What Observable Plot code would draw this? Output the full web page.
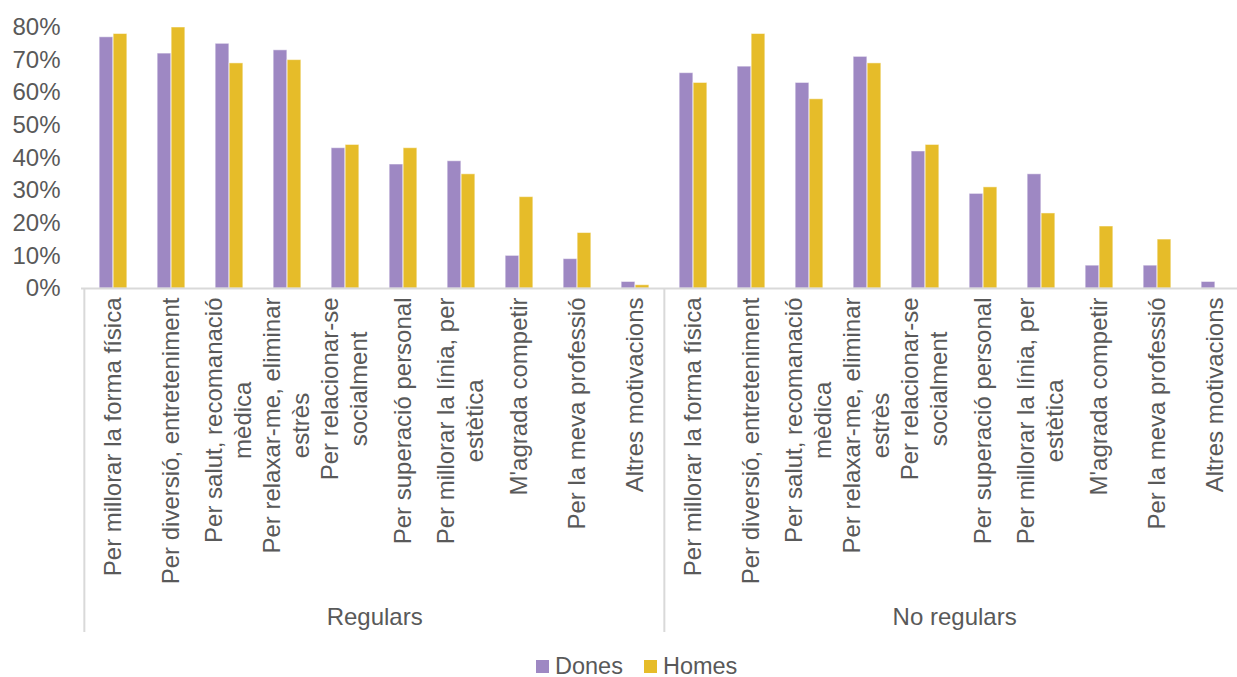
<!DOCTYPE html>
<html><head><meta charset="utf-8">
<script src="https://cdn.jsdelivr.net/npm/d3@7"></script>
<script src="https://cdn.jsdelivr.net/npm/@observablehq/plot@0.6"></script>
<style>
html,body{margin:0;padding:0;overflow:hidden;background:#fff;width:1237px;height:677px;}
#chart{position:absolute;left:0;top:0;}
#chart svg{max-width:none !important;}
#legend{position:absolute;left:536px;top:655px;height:22px;line-height:22px;display:flex;align-items:center;font-family:"Liberation Sans",Arial,sans-serif;font-size:23.5px;color:#595959;white-space:nowrap;}
#legend .sw{display:inline-block;width:13px;height:13px;margin-right:6px;}
#legend .it{display:flex;align-items:center;margin-right:21px;}
</style></head><body>
<div id="chart"></div><div id="legend"></div>
<script>
const groups = ["Regulars", "No regulars"];
const categories = [
  "Per millorar la forma física",
  "Per diversió, entreteniment",
  "Per salut, recomanació mèdica",
  "Per relaxar-me, eliminar estrès",
  "Per relacionar-se socialment",
  "Per superació personal",
  "Per millorar la línia, per estètica",
  "M'agrada competir",
  "Per la meva professió",
  "Altres motivacions"
];
const categoryLabels = [
  "Per millorar la forma física",
  "Per diversió, entreteniment",
  "Per salut, recomanació\nmèdica",
  "Per relaxar-me, eliminar\nestrès",
  "Per relacionar-se\nsocialment",
  "Per superació personal",
  "Per millorar la línia, per\nestètica",
  "M'agrada competir",
  "Per la meva professió",
  "Altres motivacions"
];
const series = ["Dones", "Homes"];
const regularsDones   = [77, 72, 75, 73, 43, 38, 39, 10, 9, 2];
const regularsHomes   = [78, 80, 69, 70, 44, 43, 35, 28, 17, 1];
const noRegularsDones = [66, 68, 63, 71, 42, 29, 35, 7, 7, 2];
const noRegularsHomes = [63, 78, 58, 69, 44, 31, 23, 19, 15, 0];
const yTicks = [0, 10, 20, 30, 40, 50, 60, 70, 80];
const colors = ["#9e88c3", "#e6bc29"];

const valuesBy = {
  "Regulars": {"Dones": regularsDones, "Homes": regularsHomes},
  "No regulars": {"Dones": noRegularsDones, "Homes": noRegularsHomes}
};
const keyOf = (g, c) => g + "|" + c;
const keys = groups.flatMap(g => categories.map(c => keyOf(g, c)));
const rows = groups.flatMap(g => series.flatMap(s => categories.map((c, i) => ({
  group: g, cat: c, key: keyOf(g, c), series: s, value: valuesBy[g][s][i]
}))));

const FONT = '"Liberation Sans", Arial, sans-serif';
const FS = 24;
const TXT = "#595959";
const AXIS = "#d9d9d9";

const pLeft = 81, pRight = 1247, pTop = 27, pBase = 288, sepBottom = 632;
const W = 1250, H = 645;
const bw = (pRight - pLeft) / keys.length;
const barW = bw * 0.24;

// measure label lengths to top-align rotated labels under the axis
const cv = document.createElement("canvas").getContext("2d");
cv.font = `${FS}px ${FONT}`;
const maxLen = categoryLabels.map(l => Math.max(...l.split("\n").map(t => cv.measureText(t).width)));

const labelMarks = categories.map((c, i) => Plot.text(
  groups.map(g => ({key: keyOf(g, c), label: categoryLabels[i]})),
  {x: "key", y: () => 0, text: "label", rotate: -90, textAnchor: "middle", lineAnchor: "middle",
   lineHeight: 1.2, fontSize: FS, fill: TXT, dx: -2, dy: 9 + maxLen[i] / 2}
));

const chart = Plot.plot({
  width: W, height: H,
  marginLeft: pLeft, marginRight: W - pRight, marginTop: pTop, marginBottom: H - sepBottom,
  style: {fontFamily: FONT, fontSize: FS + "px", color: TXT, background: "#fff", overflow: "visible", maxWidth: "none"},
  x: {type: "band", domain: keys, range: [pLeft, pRight], padding: 0, axis: null},
  y: {domain: [0, 80], range: [pBase, pTop], axis: null},
  color: {domain: series, range: colors},
  marks: [
    Plot.barY(rows.filter(d => d.series === "Dones"), {x: "key", y: "value", fill: colors[0],
      insetLeft: bw / 2 - barW, insetRight: bw / 2, stroke: "#fff", strokeOpacity: 0.5, strokeWidth: 1}),
    Plot.barY(rows.filter(d => d.series === "Homes"), {x: "key", y: "value", fill: colors[1],
      insetLeft: bw / 2, insetRight: bw / 2 - barW, stroke: "#fff", strokeOpacity: 0.5, strokeWidth: 1}),
    Plot.ruleY([0], {stroke: AXIS, strokeWidth: 2}),
    Plot.ruleX(groups.map(g => keyOf(g, categories[0])), {x: d => d, insetTop: pBase - pTop, stroke: AXIS, strokeWidth: 2, dx: -bw / 2}),
    Plot.axisY(yTicks, {tickSize: 0, tickPadding: 21, tickFormat: d => d + "%", fontSize: FS, color: TXT, label: null}),
    ...labelMarks,
    Plot.text(groups.map(g => ({key: keyOf(g, categories[4]), label: g})),
      {x: "key", text: "label", frameAnchor: "bottom", dy: -15, dx: bw / 2, lineAnchor: "middle", fontSize: FS, fill: TXT})
  ]
});
document.getElementById("chart").appendChild(chart);

const legend = document.getElementById("legend");
series.forEach((s, i) => {
  const it = document.createElement("span");
  it.className = "it";
  const sw = document.createElement("span");
  sw.className = "sw";
  sw.style.background = colors[i];
  it.appendChild(sw);
  it.appendChild(document.createTextNode(s));
  legend.appendChild(it);
});
</script>
</body></html>
